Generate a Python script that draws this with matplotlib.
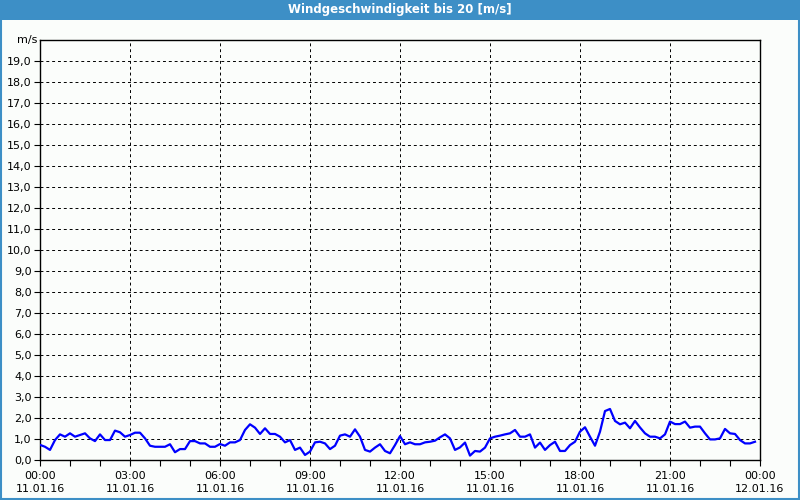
import matplotlib
matplotlib.use("Agg")
import matplotlib.pyplot as plt
import matplotlib.dates as mdates
import pandas as pd
from matplotlib.patches import Rectangle

title = "Windgeschwindigkeit bis 20 [m/s]"
unit = "m/s"
start = "2016-01-11 00:00"
end = "2016-01-12 00:00"

# wind speed, one value every 10 minutes
speed = [
    0.72, 0.63, 0.48, 0.95, 1.22, 1.11, 1.27, 1.11, 1.19, 1.27, 1.03, 0.90,
    1.22, 0.95, 0.95, 1.40, 1.32, 1.11, 1.19, 1.30, 1.30, 1.03, 0.68, 0.63,
    0.63, 0.63, 0.75, 0.37, 0.52, 0.52, 0.90, 0.90, 0.79, 0.79, 0.63, 0.63,
    0.76, 0.68, 0.84, 0.84, 0.95, 1.43, 1.70, 1.54, 1.24, 1.51, 1.24, 1.24,
    1.11, 0.84, 0.95, 0.48, 0.59, 0.24, 0.40, 0.84, 0.87, 0.79, 0.52, 0.68,
    1.16, 1.22, 1.11, 1.46, 1.11, 0.48, 0.40, 0.59, 0.75, 0.43, 0.32, 0.71,
    1.14, 0.75, 0.84, 0.75, 0.75, 0.84, 0.87, 0.92, 1.08, 1.22, 1.03, 0.48,
    0.60, 0.83, 0.21, 0.43, 0.40, 0.59, 1.03, 1.11, 1.16, 1.22, 1.27, 1.43,
    1.11, 1.11, 1.22, 0.59, 0.83, 0.48, 0.71, 0.87, 0.43, 0.43, 0.71, 0.87,
    1.35, 1.56, 1.11, 0.68, 1.35, 2.33, 2.43, 1.86, 1.70, 1.78, 1.51, 1.86,
    1.55, 1.27, 1.11, 1.11, 1.03, 1.22, 1.83, 1.71, 1.71, 1.83, 1.54, 1.59,
    1.59, 1.27, 0.98, 0.98, 1.03, 1.48, 1.27, 1.24, 0.95, 0.79, 0.79, 0.87,
]
times = pd.date_range(start, periods=len(speed), freq="10min")

y_ticks = list(range(0, 20))
y_labels = [f"{v},0" for v in y_ticks]

bg = "#fbfdfb"
blue = "#3d8fc6"

fig = plt.figure(figsize=(8, 5), dpi=100, facecolor=bg)
# title bar and frame
fig.patches.append(Rectangle((0, 0.96), 1, 0.04, transform=fig.transFigure,
                             facecolor=blue, edgecolor="none", zorder=0))
fig.patches.append(Rectangle((0.001, 0.002), 0.998, 0.996, transform=fig.transFigure,
                             facecolor="none", edgecolor=blue, linewidth=1.5, zorder=0))
fig.text(0.5, 0.98, title, color="white", ha="center", va="center",
         fontsize=8.5, fontweight="bold")

ax = fig.add_axes([0.05, 0.08, 0.90, 0.84])
ax.set_facecolor(bg)
ax.plot(times, speed, color="#0000ff", linewidth=1.6, zorder=3)

ax.set_xlim(pd.Timestamp(start), pd.Timestamp(end))
ax.set_ylim(0, 20)
ax.set_yticks(y_ticks)
ax.set_yticklabels(y_labels)
ax.text(-0.004, 20, unit, transform=ax.get_yaxis_transform(),
        ha="right", va="center", fontsize=8)

ax.xaxis.set_major_locator(mdates.HourLocator(byhour=range(0, 24, 3)))
ax.xaxis.set_minor_locator(mdates.HourLocator())
ax.xaxis.set_major_formatter(mdates.DateFormatter("%H:%M\n%d.%m.%y"))

ax.tick_params(axis="both", which="major", direction="out", length=4,
               width=0.8, labelsize=8, colors="black")
ax.tick_params(axis="x", which="minor", direction="out", length=4, width=0.8)
ax.tick_params(axis="x", pad=4)
ax.tick_params(axis="y", pad=2)
for lbl in ax.get_xticklabels():
    lbl.set_linespacing(1.4)

ax.grid(True, which="major", color="black", linestyle=(0, (3, 3)),
        linewidth=0.7)
for s in ax.spines.values():
    s.set_color("black")
    s.set_linewidth(1.0)

fig.savefig("out.png", dpi=100, facecolor=bg)
